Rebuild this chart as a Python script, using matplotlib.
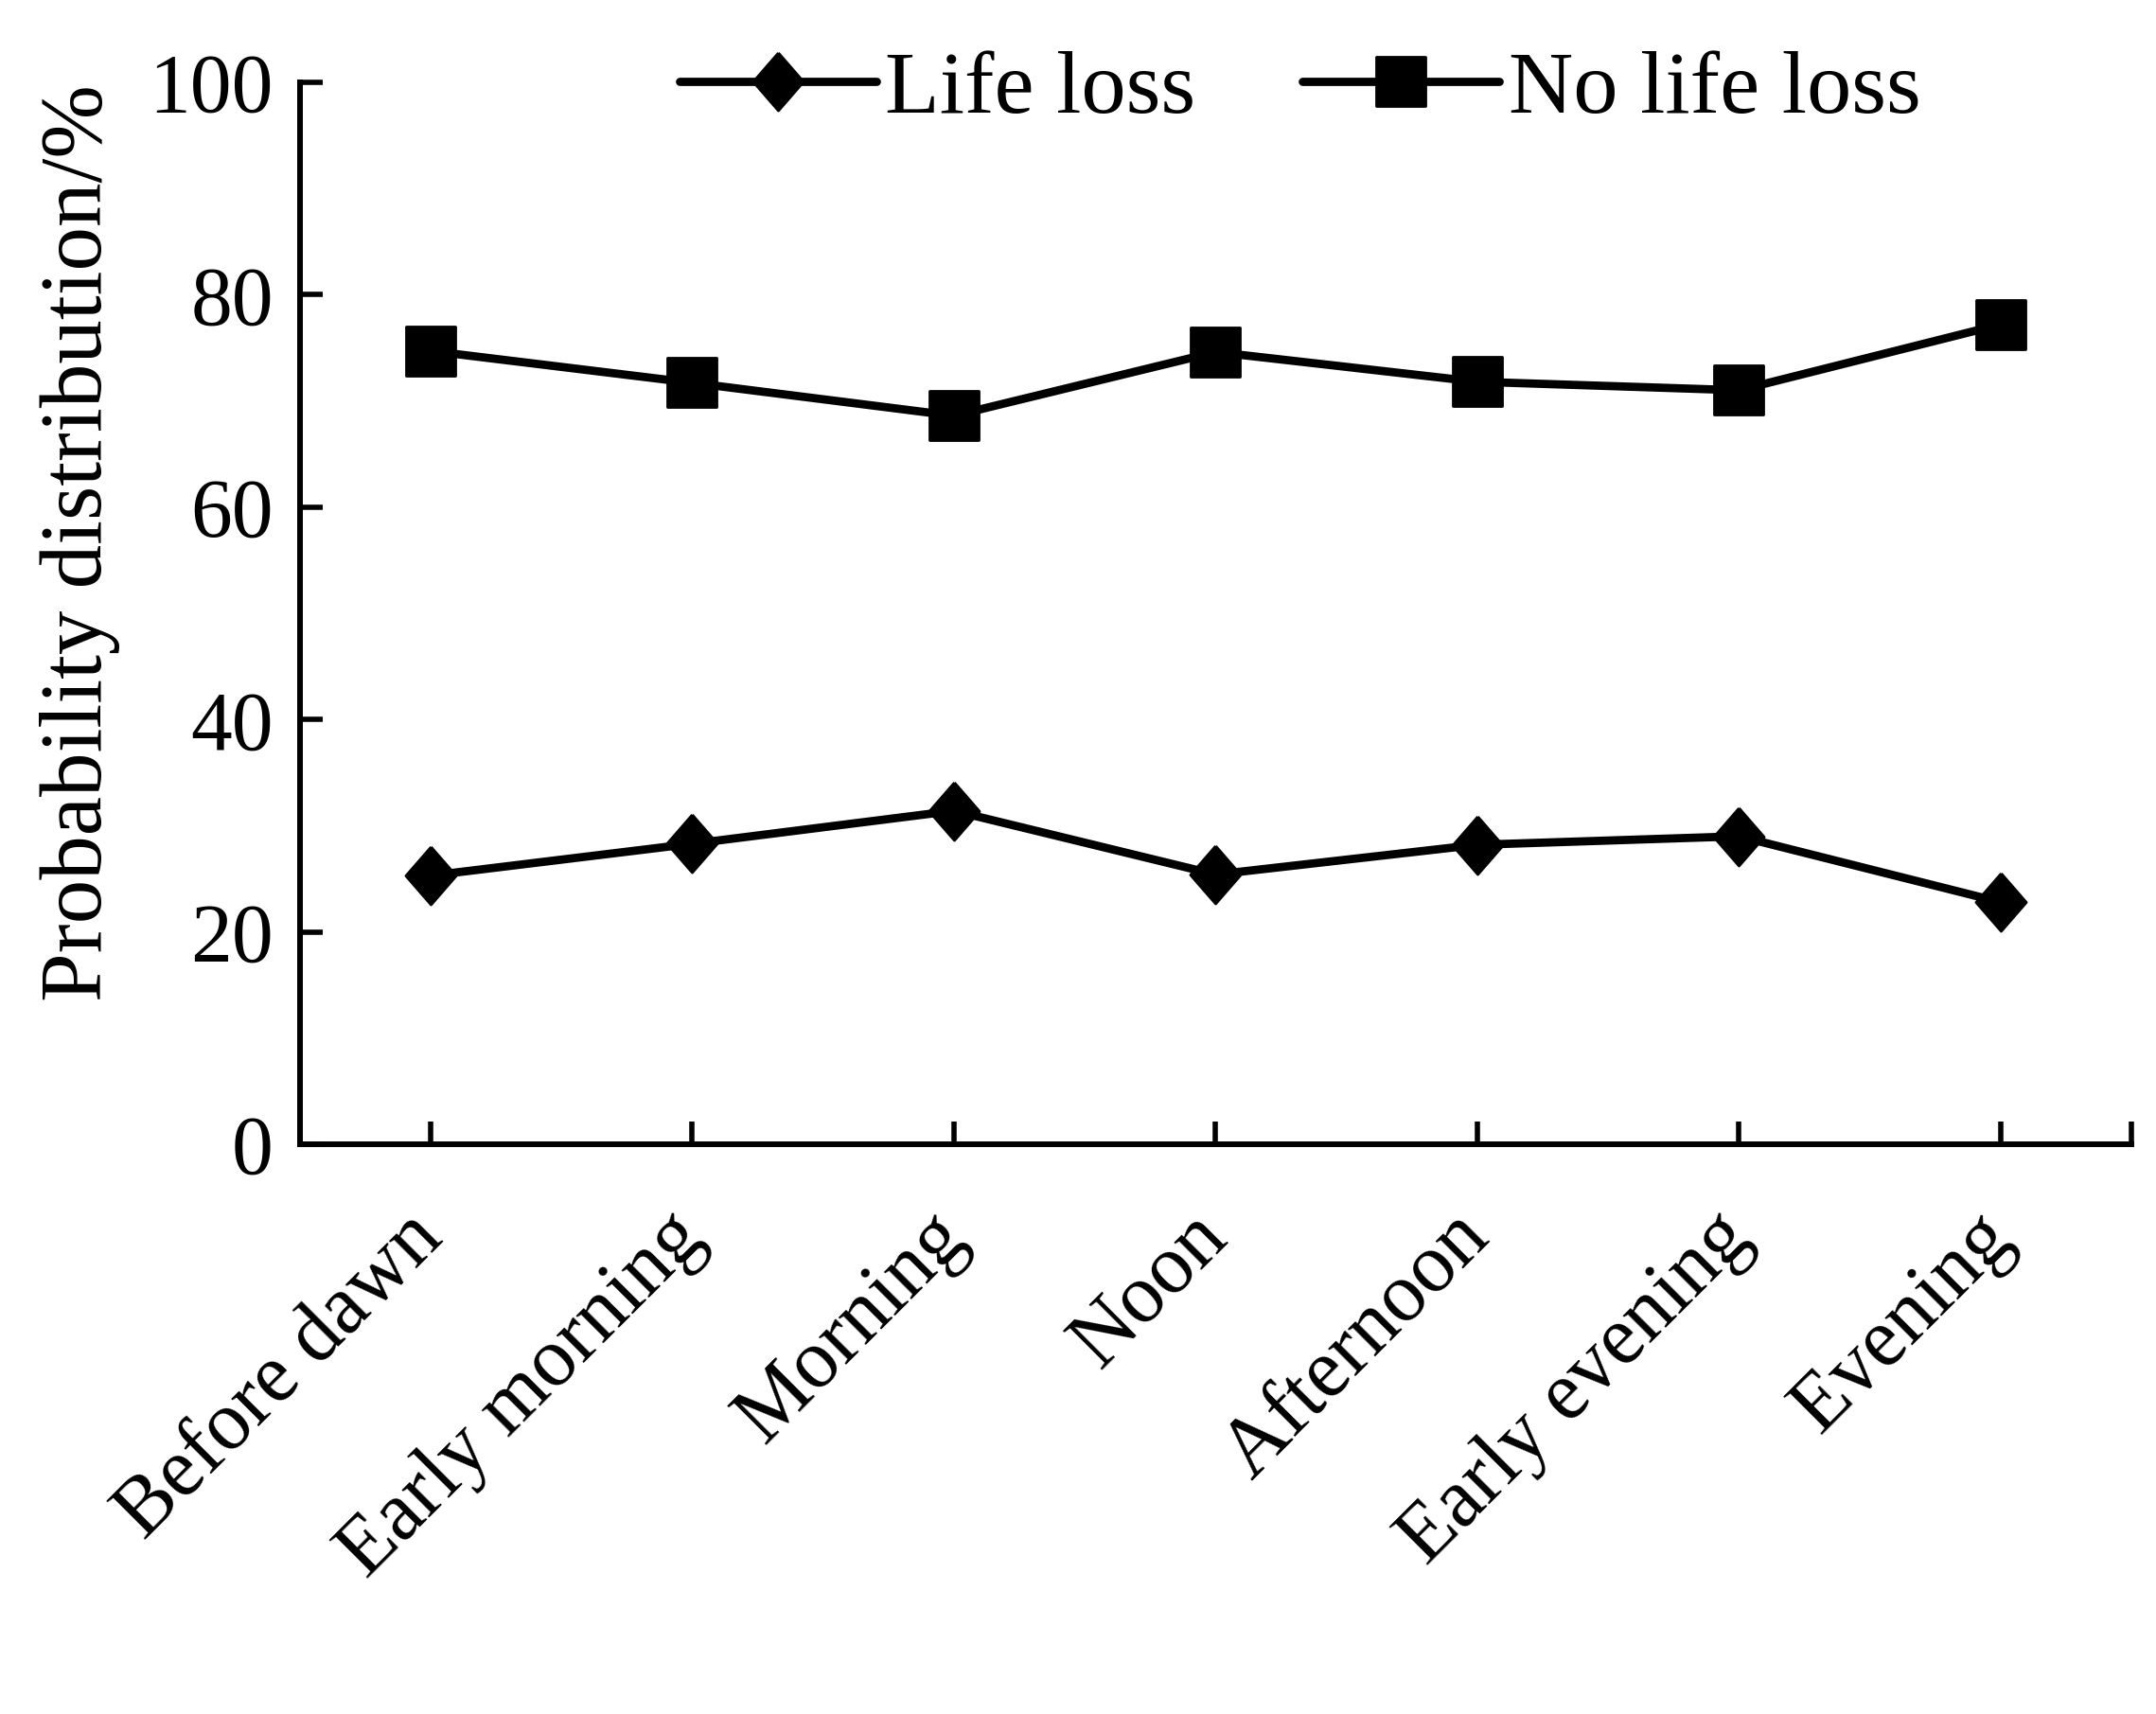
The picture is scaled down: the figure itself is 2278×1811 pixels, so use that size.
import numpy as np
import matplotlib
matplotlib.use("Agg")
import matplotlib.pyplot as plt
from matplotlib.markers import MarkerStyle

# -------------------------------
# Data
# -------------------------------
periods = ["Before dawn", "Early morning", "Morning", "Noon",
           "Afternoon", "Early evening", "Evening"]
life_loss = [25.3, 28.3, 31.4, 25.4, 28.2, 29.0, 22.8]
no_life_loss = [74.7, 71.7, 68.6, 74.6, 71.8, 71.0, 77.2]
y_ticks = [0, 20, 40, 60, 80, 100]

plt.rcParams["font.family"] = ["Liberation Serif", "DejaVu Serif"]

fig = plt.figure(figsize=(22.78, 18.11), dpi=100)
ax = fig.add_axes([0.139, 0.3324, 0.8496, 0.6196])

x = np.arange(len(periods))

# slightly taller than wide diamond, rounded square
diamond = MarkerStyle([(0, 1), (0.87, 0), (0, -1), (-0.87, 0), (0, 1)], joinstyle="round")
square = MarkerStyle("s", joinstyle="round")

l1, = ax.plot(x, life_loss, color="black", lw=6.3, marker=diamond,
              markersize=44, markeredgewidth=2, label="Life loss",
              solid_joinstyle="round", solid_capstyle="round")
l2, = ax.plot(x, no_life_loss, color="black", lw=6.3, marker=square,
              markersize=38, markeredgewidth=2, label="No life loss",
              solid_joinstyle="round", solid_capstyle="round")

ax.set_xlim(-0.5, len(periods) - 0.5)
ax.set_ylim(0, 100)
ax.set_yticks(y_ticks)
ax.set_xticks(x)
ax.set_xticks([-0.5, len(periods) - 0.5], minor=True)
ax.set_xticklabels(periods, rotation=45, ha="right", va="center",
                   rotation_mode="anchor", fontsize=63)
ax.tick_params(axis="y", labelsize=63, direction="in", length=17, width=4, pad=20)
ax.tick_params(axis="x", which="both", direction="in", length=17, width=4, pad=62)

for side in ["top", "right"]:
    ax.spines[side].set_visible(False)
for side in ["left", "bottom"]:
    ax.spines[side].set_linewidth(4.3)

ax.set_ylabel("Probability distribution/%", fontsize=67)
ax.yaxis.set_label_coords(-0.098, 0.566)

fig.legend(handles=[l1, l2], loc="center", bbox_to_anchor=(0.603, 0.947),
           ncol=2, frameon=False, fontsize=68, handlelength=2.2,
           handletextpad=0.1, columnspacing=1.2)

fig.savefig("out.png", dpi=100)
